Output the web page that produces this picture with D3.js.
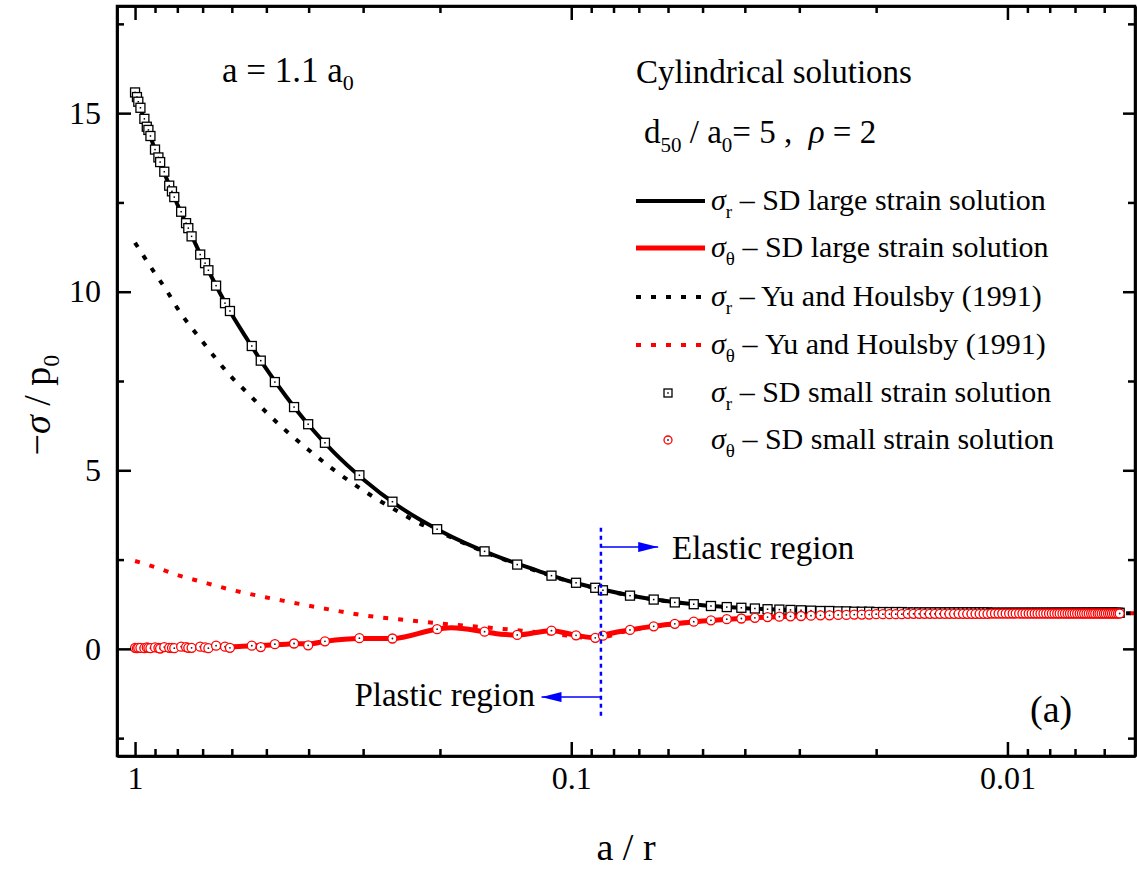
<!DOCTYPE html>
<html>
<head>
<meta charset="utf-8">
<script src="https://cdn.jsdelivr.net/npm/d3@7"></script>
<style>
  html, body { margin: 0; padding: 0; background: #fff; }
  svg { display: block; }
  svg text { font-family: "Liberation Serif", "Times New Roman", serif; }
</style>
</head>
<body>
<svg id="chart" width="1137" height="869"></svg>
<script>
// ---------- data ----------
// a/r positions of the small-strain solution points (plastic zone, then elastic zone)
const markerAR = [
  1.000, 0.990, 0.983, 0.972, 0.952, 0.940, 0.932, 0.922, 0.900, 0.884,
  0.876, 0.857, 0.835, 0.823, 0.813, 0.784, 0.764, 0.755, 0.742, 0.709,
  0.691, 0.679, 0.652, 0.622, 0.606, 0.540, 0.515, 0.478, 0.432, 0.401,
  0.367, 0.306, 0.257, 0.203, 0.158, 0.133, 0.111, 0.0975, 0.0881, 0.0846,
  0.07333, 0.06471, 0.05789, 0.05238, 0.04783, 0.04400, 0.04074, 0.03793, 0.03548, 0.03333,
  0.03143, 0.02973, 0.02821, 0.02683, 0.02558, 0.02444, 0.02340, 0.02245, 0.02157, 0.02075,
  0.02000, 0.01930, 0.01864, 0.01803, 0.01746, 0.01692, 0.01642, 0.01594, 0.01549, 0.01507,
  0.01467, 0.01429, 0.01392, 0.01358, 0.01325, 0.01294, 0.01264, 0.01236, 0.01209, 0.01183,
  0.01158, 0.01134, 0.01111, 0.01089, 0.01068, 0.01048, 0.01028, 0.01009, 0.00991, 0.00973,
  0.00957, 0.00940, 0.00924, 0.00909, 0.00894, 0.00880, 0.00866, 0.00853, 0.00840, 0.00827,
  0.00815, 0.00803, 0.00791, 0.00780, 0.00769, 0.00759, 0.00748, 0.00738, 0.00728, 0.00719,
  0.00710, 0.00701, 0.00692, 0.00683, 0.00675, 0.00667, 0.00659, 0.00651, 0.00643, 0.00636,
  0.00629, 0.00621, 0.00615, 0.00608, 0.00601, 0.00595, 0.00588, 0.00582, 0.00576, 0.00570,
  0.00564, 0.00558, 0.00553
];
// sigma_r / p0, SD small strain solution
const srSmall = [
  15.58, 15.45, 15.32, 15.15, 14.84, 14.62, 14.53, 14.36, 13.98, 13.76,
  13.63, 13.36, 12.97, 12.81, 12.65, 12.24, 11.92, 11.78, 11.55, 11.04,
  10.80, 10.60, 10.17, 9.68, 9.46, 8.48, 8.07, 7.47, 6.77, 6.29,
  5.77, 4.86, 4.12, 3.35, 2.73, 2.36, 2.05, 1.85, 1.71, 1.64,
  1.49, 1.38, 1.30, 1.25, 1.20, 1.17, 1.15, 1.13, 1.11, 1.10,
  1.09, 1.08, 1.07, 1.06, 1.06, 1.05, 1.05, 1.04, 1.04, 1.04,
  1.03, 1.03, 1.03, 1.03, 1.03, 1.02, 1.02, 1.02, 1.02, 1.02,
  1.02, 1.02, 1.02, 1.02, 1.02, 1.02, 1.02, 1.02, 1.02, 1.02,
  1.02, 1.02, 1.02, 1.01, 1.01, 1.01, 1.01, 1.01, 1.01, 1.01,
  1.01, 1.01, 1.01, 1.01, 1.01, 1.01, 1.01, 1.01, 1.01, 1.01,
  1.01, 1.01, 1.01, 1.01, 1.01, 1.01, 1.01, 1.01, 1.01, 1.01,
  1.01, 1.01, 1.01, 1.01, 1.01, 1.01, 1.01, 1.01, 1.01, 1.01,
  1.01, 1.01, 1.01, 1.01, 1.01, 1.01, 1.01, 1.01, 1.01, 1.01,
  1.01, 1.01, 1.01
];
// sigma_theta / p0, SD small strain solution
const stSmall = [
  0.03, 0.02, 0.03, 0.03, 0.02, 0.04, 0.03, 0.02, 0.04, 0.03,
  0.01, 0.05, 0.03, 0.03, 0.02, 0.06, 0.05, 0.03, 0.03, 0.06,
  0.04, 0.02, 0.09, 0.06, 0.03, 0.09, 0.05, 0.13, 0.15, 0.10,
  0.21, 0.30, 0.29, 0.55, 0.48, 0.39, 0.51, 0.38, 0.31, 0.37,
  0.53, 0.63, 0.70, 0.76, 0.80, 0.83, 0.85, 0.87, 0.89, 0.90,
  0.91, 0.92, 0.93, 0.94, 0.94, 0.95, 0.95, 0.96, 0.96, 0.96,
  0.97, 0.97, 0.97, 0.97, 0.97, 0.98, 0.98, 0.98, 0.98, 0.98,
  0.98, 0.98, 0.98, 0.98, 0.98, 0.98, 0.98, 0.98, 0.98, 0.98,
  0.98, 0.98, 0.98, 0.99, 0.99, 0.99, 0.99, 0.99, 0.99, 0.99,
  0.99, 0.99, 0.99, 0.99, 0.99, 0.99, 0.99, 0.99, 0.99, 0.99,
  0.99, 0.99, 0.99, 0.99, 0.99, 0.99, 0.99, 0.99, 0.99, 0.99,
  0.99, 0.99, 0.99, 0.99, 0.99, 0.99, 0.99, 0.99, 0.99, 0.99,
  0.99, 0.99, 0.99, 0.99, 0.99, 0.99, 0.99, 0.99, 0.99, 0.99,
  0.99, 0.99, 0.99
];

// SD large strain solution
const srLargeAR = [1.0, 0.95, 0.9, 0.85, 0.8, 0.75, 0.7, 0.65, 0.6, 0.55, 0.5, 0.45, 0.4, 0.35, 0.3,
                   0.25, 0.2, 0.15, 0.12, 0.1, 0.0881, 0.07, 0.06, 0.05, 0.04, 0.03, 0.02, 0.015, 0.01, 0.0054];
const srLarge   = [15.50, 14.80, 13.98, 13.22, 12.45, 11.70, 10.92, 10.14, 9.36, 8.62, 7.84, 7.06, 6.27, 5.50, 4.75,
                   4.01, 3.31, 2.62, 2.20, 1.88, 1.71, 1.45, 1.33, 1.22, 1.14, 1.08, 1.04, 1.02, 1.01, 1.00];
const stLargeAR = [1.0, 0.9, 0.8, 0.7, 0.65, 0.6, 0.55, 0.5, 0.45, 0.43, 0.40, 0.367, 0.306, 0.257, 0.203,
                   0.188, 0.158, 0.145, 0.133, 0.111, 0.0975, 0.0881, 0.0846, 0.0733, 0.065, 0.058, 0.05,
                   0.04, 0.03, 0.02, 0.01, 0.0054];
const stLarge   = [0.02, 0.03, 0.04, 0.05, 0.07, 0.06, 0.08, 0.10, 0.13, 0.14, 0.14, 0.21, 0.29, 0.29, 0.55,
                   0.59, 0.48, 0.41, 0.39, 0.51, 0.38, 0.31, 0.38, 0.53, 0.63, 0.70, 0.78,
                   0.86, 0.92, 0.96, 0.99, 1.00];

// Yu and Houlsby (1991)
const srYuAR = [1.0, 0.95, 0.9, 0.85, 0.8, 0.7, 0.6, 0.5445, 0.5, 0.45, 0.4, 0.35, 0.3, 0.25, 0.2172,
                0.2, 0.15, 0.12, 0.1, 0.0881, 0.07, 0.05, 0.03, 0.02, 0.01, 0.0051];
const srYu   = [11.37, 10.95, 10.51, 10.07, 9.54, 8.60, 7.60, 7.09, 6.62, 6.10, 5.57, 5.01, 4.44, 3.85, 3.45,
                3.26, 2.60, 2.18, 1.87, 1.70, 1.45, 1.22, 1.08, 1.04, 1.01, 1.00];
const stYuAR = [1.0, 0.9, 0.8, 0.7, 0.6, 0.5, 0.45, 0.4, 0.35, 0.3, 0.25, 0.2, 0.15, 0.13, 0.11,
                0.0881, 0.0733, 0.06, 0.05, 0.04, 0.03, 0.02, 0.01, 0.0051];
const stYu   = [2.46, 2.29, 2.07, 1.87, 1.65, 1.44, 1.33, 1.21, 1.08, 0.94, 0.83, 0.71, 0.58, 0.51, 0.42,
                0.30, 0.52, 0.68, 0.78, 0.86, 0.92, 0.96, 0.99, 1.00];

// elastic-plastic boundary (a/r)
const plasticBoundary = 0.0855;

// axis ticks
const xMajorTicks = [1, 0.1, 0.01];
const xTickLabels = ["1", "0.1", "0.01"];
const xMinorTicks = [0.9, 0.8, 0.7, 0.6, 0.5, 0.4, 0.3, 0.2,
                     0.09, 0.08, 0.07, 0.06, 0.05, 0.04, 0.03, 0.02,
                     0.009, 0.008, 0.007, 0.006];
const yMajorTicks = [0, 5, 10, 15];
const yTickLabels = ["0", "5", "10", "15"];
const yMinorTicks = [-2.5, 2.5, 7.5, 12.5, 17.5];

// legend
const legendSubs  = ["r", "θ", "r", "θ", "r", "θ"];
const legendTexts = [" – SD large strain solution", " – SD large strain solution",
                     " – Yu and Houlsby (1991)", " – Yu and Houlsby (1991)",
                     " – SD small strain solution", " – SD small strain solution"];

// ---------- layout ----------
const FONT = "Liberation Serif, Times New Roman, serif";
const plot = { left: 117, right: 1135, top: 6, bottom: 756 };
const svg = d3.select("#chart").attr("font-family", FONT);

const x = d3.scaleLog().domain([1.1, 0.0051]).range([plot.left, plot.right]);
const y = d3.scaleLinear().domain([-3, 18]).range([plot.bottom, plot.top]);

svg.append("rect").attr("width", 1137).attr("height", 869).attr("fill", "#fff");

const defs = svg.append("defs");
defs.append("clipPath").attr("id", "plotClip")
  .append("rect").attr("x", plot.left).attr("y", plot.top)
  .attr("width", plot.right - plot.left).attr("height", plot.bottom - plot.top);

const zip = (xs, ys) => xs.map((v, i) => [v, ys[i]]);
const line = d3.line().x(d => x(d[0])).y(d => y(d[1])).curve(d3.curveMonotoneX);

const data = svg.append("g").attr("clip-path", "url(#plotClip)");

// curves
data.append("path").datum(zip(srLargeAR, srLarge)).attr("d", line)
  .attr("fill", "none").attr("stroke", "#000").attr("stroke-width", 4);
data.append("path").datum(zip(stLargeAR, stLarge)).attr("d", line)
  .attr("fill", "none").attr("stroke", "#ff0000").attr("stroke-width", 5);
data.append("path").datum(zip(srYuAR, srYu)).attr("d", line)
  .attr("fill", "none").attr("stroke", "#000").attr("stroke-width", 4)
  .attr("stroke-dasharray", "5,10");
data.append("path").datum(zip(stYuAR, stYu)).attr("d", line)
  .attr("fill", "none").attr("stroke", "#ff0000").attr("stroke-width", 4)
  .attr("stroke-dasharray", "5,10");

// markers
const sqSize = 9;
const sq = data.append("g").selectAll("g").data(zip(markerAR, srSmall)).join("g")
  .attr("transform", d => `translate(${x(d[0])},${y(d[1])})`);
sq.append("rect").attr("x", -sqSize / 2).attr("y", -sqSize / 2)
  .attr("width", sqSize).attr("height", sqSize)
  .attr("fill", "#fff").attr("stroke", "#000").attr("stroke-width", 1.3);
sq.append("rect").attr("x", -0.75).attr("y", -0.75).attr("width", 1.5).attr("height", 1.5).attr("fill", "#000");

const ci = data.append("g").selectAll("g").data(zip(markerAR, stSmall)).join("g")
  .attr("transform", d => `translate(${x(d[0])},${y(d[1])})`);
ci.append("circle").attr("r", 4.5)
  .attr("fill", "#fff").attr("stroke", "#ff0000").attr("stroke-width", 1.3);
ci.append("circle").attr("r", 0.9).attr("fill", "#222");

// ---------- axes ----------
function styleAxis(g) {
  g.attr("font-family", FONT);
  g.select(".domain").attr("stroke", "#000").attr("stroke-width", 2.5);
  g.selectAll(".tick line").attr("stroke", "#000").attr("stroke-width", 2.5);
  g.selectAll(".tick text").attr("font-family", FONT)
    .attr("font-size", 32).attr("fill", "#000");
}
const majLen = 14, minLen = 7;

svg.append("g").attr("transform", `translate(0,${plot.bottom})`)
  .call(d3.axisBottom(x).tickValues(xMajorTicks).tickFormat((d, i) => xTickLabels[i])
    .tickSize(-majLen).tickSizeOuter(0).tickPadding(10)).call(styleAxis);
svg.append("g").attr("transform", `translate(0,${plot.bottom})`)
  .call(d3.axisBottom(x).tickValues(xMinorTicks).tickFormat("").tickSize(-minLen).tickSizeOuter(0)).call(styleAxis);
svg.append("g").attr("transform", `translate(0,${plot.top})`)
  .call(d3.axisTop(x).tickValues(xMajorTicks).tickFormat("").tickSize(-majLen).tickSizeOuter(0)).call(styleAxis);
svg.append("g").attr("transform", `translate(0,${plot.top})`)
  .call(d3.axisTop(x).tickValues(xMinorTicks).tickFormat("").tickSize(-minLen).tickSizeOuter(0)).call(styleAxis);

svg.append("g").attr("transform", `translate(${plot.left},0)`)
  .call(d3.axisLeft(y).tickValues(yMajorTicks).tickFormat((d, i) => yTickLabels[i])
    .tickSize(-majLen).tickSizeOuter(0).tickPadding(16)).call(styleAxis);
svg.append("g").attr("transform", `translate(${plot.left},0)`)
  .call(d3.axisLeft(y).tickValues(yMinorTicks).tickFormat("").tickSize(-minLen).tickSizeOuter(0)).call(styleAxis);
svg.append("g").attr("transform", `translate(${plot.right},0)`)
  .call(d3.axisRight(y).tickValues(yMajorTicks).tickFormat("").tickSize(-majLen + 2).tickSizeOuter(0)).call(styleAxis);
svg.append("g").attr("transform", `translate(${plot.right},0)`)
  .call(d3.axisRight(y).tickValues(yMinorTicks).tickFormat("").tickSize(-minLen).tickSizeOuter(0)).call(styleAxis);

// frame
svg.append("rect").attr("x", plot.left).attr("y", plot.top)
  .attr("width", plot.right - plot.left).attr("height", plot.bottom - plot.top)
  .attr("fill", "none").attr("stroke", "#000").attr("stroke-width", 2.5);

// helper for text in the serif face
const txt = (sel) => sel.append("text").attr("font-family", FONT).attr("fill", "#000");

// axis titles
txt(svg).attr("x", 626).attr("y", 860).attr("text-anchor", "middle")
  .attr("font-size", 38).text("a / r");

const yt = txt(svg).attr("transform", "translate(50,405) rotate(-90)")
  .attr("text-anchor", "middle").attr("font-size", 38);
yt.append("tspan").text("−");
yt.append("tspan").attr("font-style", "italic").text("σ");
yt.append("tspan").text(" / p");
yt.append("tspan").attr("font-size", 24).attr("dy", 9).text("0");

// ---------- annotations ----------
const t1 = txt(svg).attr("x", 222).attr("y", 82).attr("font-size", 35);
t1.append("tspan").text("a = 1.1 a");
t1.append("tspan").attr("font-size", 22).attr("dy", 8).text("0");

txt(svg).attr("x", 636).attr("y", 83).attr("font-size", 33).text("Cylindrical solutions");

const t2 = txt(svg).attr("x", 644).attr("y", 143).attr("font-size", 33);
t2.append("tspan").text("d");
t2.append("tspan").attr("font-size", 21).attr("dy", 9).text("50");
t2.append("tspan").attr("dy", -9).text(" / a");
t2.append("tspan").attr("font-size", 21).attr("dy", 9).text("0");
t2.append("tspan").attr("dy", -9).text("= 5 ,\u00A0\u00A0");
t2.append("tspan").attr("font-style", "italic").text("ρ");
t2.append("tspan").text(" = 2");

txt(svg).attr("x", 1030).attr("y", 722).attr("font-size", 38).text("(a)");

// legend
const legRowY = [201, 248, 297, 345, 393, 440];
const leg = svg.append("g");
legRowY.forEach((ry, i) => {
  if (i < 4) {
    leg.append("line").attr("x1", 636).attr("x2", 705).attr("y1", ry).attr("y2", ry)
      .attr("stroke", i % 2 === 0 ? "#000" : "#ff0000")
      .attr("stroke-width", i === 1 ? 5 : 4)
      .attr("stroke-dasharray", i < 2 ? null : "5,10");
  } else if (i === 4) {
    leg.append("rect").attr("x", 668 - 4).attr("y", ry - 4).attr("width", 8).attr("height", 8)
      .attr("fill", "#fff").attr("stroke", "#000").attr("stroke-width", 1.3);
    leg.append("rect").attr("x", 667.25).attr("y", ry - 0.75).attr("width", 1.5).attr("height", 1.5).attr("fill", "#000");
  } else {
    leg.append("circle").attr("cx", 668).attr("cy", ry).attr("r", 4)
      .attr("fill", "#fff").attr("stroke", "#ff0000").attr("stroke-width", 1.3);
    leg.append("circle").attr("cx", 668).attr("cy", ry).attr("r", 0.9).attr("fill", "#222");
  }
  const tx = txt(leg).attr("x", 711).attr("y", ry + 9).attr("font-size", 30);
  tx.append("tspan").attr("font-style", "italic").text("σ");
  tx.append("tspan").attr("font-size", 19).attr("dy", 8).text(legendSubs[i]);
  tx.append("tspan").attr("dy", -8).text(legendTexts[i]);
});

// elastic / plastic boundary with arrows
defs.append("marker").attr("id", "blueArrow").attr("viewBox", "0 0 20 10")
  .attr("refX", 20).attr("refY", 5).attr("markerWidth", 20).attr("markerHeight", 10)
  .attr("markerUnits", "userSpaceOnUse").attr("orient", "auto")
  .append("path").attr("d", "M0,0 L20,5 L0,10 Z").attr("fill", "#0000ff");

const bx = x(plasticBoundary);
svg.append("line").attr("x1", bx).attr("x2", bx).attr("y1", y(3.39)).attr("y2", y(-1.91))
  .attr("stroke", "#0000ff").attr("stroke-width", 2.5).attr("stroke-dasharray", "4,4");
svg.append("line").attr("x1", bx).attr("x2", x(0.0632)).attr("y1", y(2.85)).attr("y2", y(2.85))
  .attr("stroke", "#0000ff").attr("stroke-width", 1.5).attr("marker-end", "url(#blueArrow)");
svg.append("line").attr("x1", bx).attr("x2", x(0.117)).attr("y1", y(-1.35)).attr("y2", y(-1.35))
  .attr("stroke", "#0000ff").attr("stroke-width", 1.5).attr("marker-end", "url(#blueArrow)");

txt(svg).attr("x", 672).attr("y", 559).attr("font-size", 33).text("Elastic region");
txt(svg).attr("x", 535).attr("y", 706).attr("text-anchor", "end").attr("font-size", 33).text("Plastic region");
</script>
</body>
</html>
